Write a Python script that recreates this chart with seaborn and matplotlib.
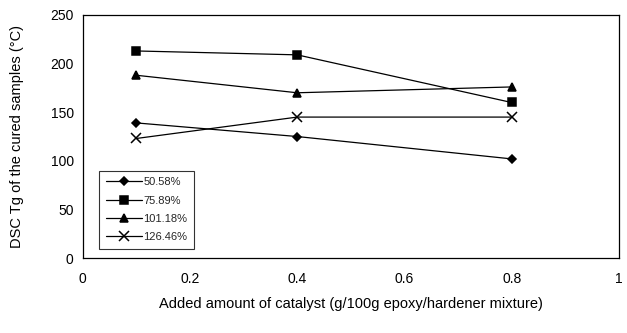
import matplotlib
matplotlib.use("Agg")
import matplotlib.pyplot as plt
import seaborn as sns
import pandas as pd

catalyst = [0.1, 0.4, 0.8]
series_names = ["50.58%", "75.89%", "101.18%", "126.46%"]
tg_50 = [139, 125, 102]
tg_75 = [213, 209, 160]
tg_101 = [188, 170, 176]
tg_126 = [123, 145, 145]
x_ticks = [0, 0.2, 0.4, 0.6, 0.8, 1]
x_tick_labels = ["0", "0.2", "0.4", "0.6", "0.8", "1"]
y_ticks = [0, 50, 100, 150, 200, 250]

sns.set_theme(style="white")
plt.rcParams['font.family'] = ['Liberation Sans', 'DejaVu Sans']

rows = []
for name, vals in zip(series_names, [tg_50, tg_75, tg_101, tg_126]):
    for x, v in zip(catalyst, vals):
        rows.append({"catalyst": x, "Tg": v, "series": name})
df = pd.DataFrame(rows)

fig = plt.figure(figsize=(6.27, 3.33), dpi=100)
ax = fig.add_axes([0.132, 0.225, 0.855, 0.730])

markers = {"50.58%": "D", "75.89%": "s", "101.18%": "^", "126.46%": "x"}
sizes = {"50.58%": 4.5, "75.89%": 5.5, "101.18%": 6, "126.46%": 6.5}
for name in series_names:
    sub = df[df.series == name]
    sns.lineplot(data=sub, x="catalyst", y="Tg", ax=ax, color="black",
                 marker=markers[name], markersize=sizes[name], linewidth=0.9,
                 markeredgecolor="black", markerfacecolor="black",
                 markeredgewidth=1.1, label=name)

ax.set_xlim(0, 1)
ax.set_ylim(0, 250)
ax.set_xticks(x_ticks)
ax.set_xticklabels(x_tick_labels)
ax.set_yticks(y_ticks)
ax.tick_params(axis="both", labelsize=10, colors="black", length=4, width=0.8)
ax.tick_params(axis="x", direction="inout", pad=8)
ax.tick_params(axis="y", direction="out", length=3)
for s in ax.spines.values():
    s.set_color("black")
    s.set_linewidth(0.9)
    s.set_visible(True)

ax.set_xlabel("Added amount of catalyst (g/100g epoxy/hardener mixture)",
              fontsize=10.5, color="black")
ax.set_ylabel("DSC Tg of the cured samples (\u00b0C)", fontsize=10.5,
              color="black")
ax.xaxis.set_label_coords(0.5, -0.16)
ax.yaxis.set_label_coords(-0.11, 0.5)

leg = ax.legend(loc="lower left", bbox_to_anchor=(0.02, 0.015), fontsize=8,
                frameon=True, fancybox=False, edgecolor="black",
                handlelength=3.3, borderpad=0.6, labelspacing=0.75,
                handletextpad=0.1)
leg.get_frame().set_linewidth(0.8)

fig.savefig("out.png", dpi=100, facecolor="white")
